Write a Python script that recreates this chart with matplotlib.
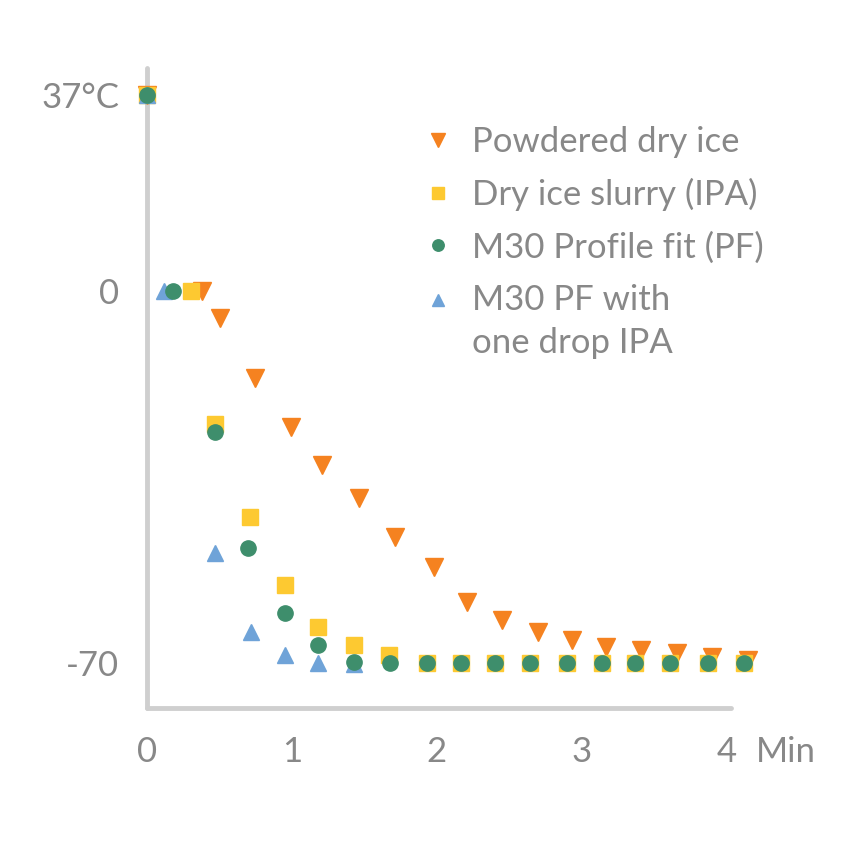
import numpy as np
import matplotlib.pyplot as plt
from matplotlib.transforms import offset_copy

plt.rcParams['font.family'] = ['Lato', 'DejaVu Sans']

# time in minutes, temperature in degrees C
t_powder = [0, 0.38, 0.50, 0.745, 0.99, 1.21, 1.46, 1.71, 1.98, 2.21, 2.45,
            2.70, 2.93, 3.17, 3.41, 3.66, 3.90, 4.15]
y_powder = [37, 0, -5.1, -16.4, -25.6, -32.7, -39.0, -46.3, -51.9, -58.5, -61.9,
            -64.2, -65.7, -67.0, -67.6, -68.1, -68.9, -69.4]

t_slurry = [0, 0.30, 0.47, 0.71, 0.95, 1.18, 1.43, 1.67, 1.93, 2.17, 2.40,
            2.64, 2.90, 3.14, 3.37, 3.61, 3.87, 4.12]
y_slurry = [37, 0, -25.0, -42.5, -55.3, -63.2, -66.6, -68.5, -70, -70, -70,
            -70, -70, -70, -70, -70, -70, -70]

t_pf = [0, 0.18, 0.47, 0.70, 0.95, 1.18, 1.43, 1.68, 1.93, 2.17, 2.40,
        2.64, 2.90, 3.14, 3.37, 3.61, 3.87, 4.12]
y_pf = [37, 0, -26.6, -48.4, -60.6, -66.6, -69.8, -70, -70, -70, -70,
        -70, -70, -70, -70, -70, -70, -70]

t_pf_ipa = [0, 0.12, 0.47, 0.72, 0.95, 1.18, 1.43]
y_pf_ipa = [37, 0, -49.3, -64.2, -68.5, -70, -70.3]

labels = ['Powdered dry ice', 'Dry ice slurry (IPA)', 'M30 Profile fit (PF)',
          'M30 PF with\none drop IPA']
colors = ['#F58220', '#FDC931', '#3E8E6C', '#6FA3D8']

grey = '#888888'
axis_grey = '#CFCFCF'

fig = plt.figure(figsize=(8.5, 8.5), dpi=100)
ax = fig.add_axes([0.173, 0.167, 0.687, 0.753])

h1, = ax.plot(t_powder, y_powder, 'v', ms=13, color=colors[0], ls='none', clip_on=False, zorder=3)
h2, = ax.plot(t_slurry, y_slurry, 's', ms=12, color=colors[1], ls='none', clip_on=False, zorder=4)
h4, = ax.plot(t_pf_ipa, y_pf_ipa, '^', ms=12, color=colors[3], ls='none', clip_on=False, zorder=5)
h3, = ax.plot(t_pf, y_pf, 'o', ms=11, color=colors[2], ls='none', clip_on=False, zorder=6)

ax.set_xlim(0, 4.03)
ax.set_ylim(-78.5, 42)

for side in ['top', 'right']:
    ax.spines[side].set_visible(False)
for side in ['left', 'bottom']:
    ax.spines[side].set_color(axis_grey)
    ax.spines[side].set_linewidth(3.5)
    ax.spines[side].set_capstyle('round')

fs = 25
ax.set_xticks([0, 1, 2, 3, 4])
ax.set_xticklabels(['0', '1', '2', '3', '4'])
ax.set_yticks([37, 0, -70])
ax.set_yticklabels(['37°C', '0', '-70'])
ax.tick_params(length=0, labelsize=fs, labelcolor=grey)
ax.tick_params(axis='y', pad=20)
ax.tick_params(axis='x', pad=20)

# unit label on the same line as the x tick labels
ax.text(4.2, -78.5, 'Min', fontsize=fs, color=grey, ha='left', va='top',
        transform=offset_copy(ax.transData, fig=fig, y=-20, units='points'),
        clip_on=False)

leg = fig.legend([h1, h2, h3, h4], labels, loc='upper left',
                 bbox_to_anchor=(0.50, 0.852), frameon=False, fontsize=fs,
                 handlelength=0.72, handletextpad=0.62, labelspacing=0.58,
                 borderpad=0, borderaxespad=0, markerscale=0.75)
for txt in leg.get_texts():
    txt.set_color(grey)
    txt.set_linespacing(1.45)

# keep the last marker level with the first line of its two-line label
last = leg.legend_handles[3]
last.set_ydata(np.asarray(last.get_ydata()) + 16)

fig.savefig('out.png', dpi=100, facecolor='white')
